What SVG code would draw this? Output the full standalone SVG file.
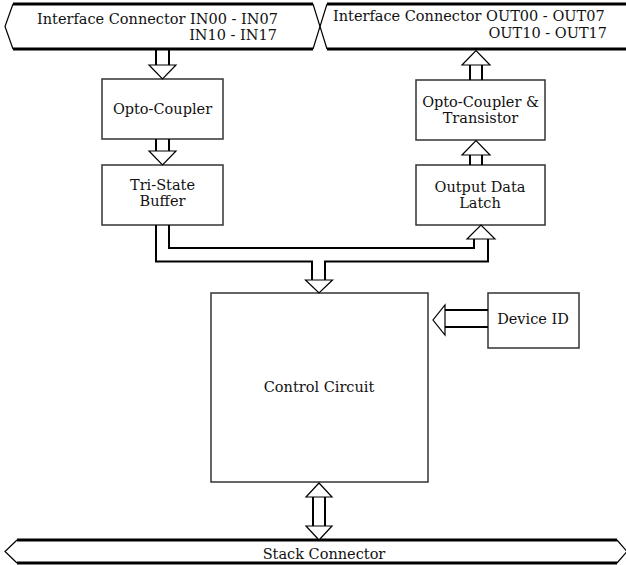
<svg xmlns="http://www.w3.org/2000/svg" width="626" height="565" viewBox="0 0 626 565">
<style>
.box{fill:#fff;stroke:#333;stroke-width:1.5}
.bus{fill:none;stroke:#000;stroke-width:3}
.edge{fill:none;stroke:#000;stroke-width:1.2}
.shaft{fill:none;stroke:#000;stroke-width:2}
.head{fill:#fff;stroke:#000;stroke-width:1.2;stroke-linejoin:miter}
text{font-family:"DejaVu Serif","Liberation Serif",serif;font-size:14.5px;fill:#111}
.c{text-anchor:middle}
.r{text-anchor:end}
</style>
<rect width="626" height="565" fill="#fff"/>
<g id="in-connector">
<path class="edge" d="M313,4 L320,26.5 L313,49 M13,4 L5,26.5 L13,49"/>
<path class="bus" d="M13,4 H313 M13,49 H313"/>
<text x="37" y="24">Interface Connector IN00 - IN07</text>
<text class="r" x="277" y="40">IN10 - IN17</text>
</g>
<g id="out-connector">
<path class="edge" d="M327,4 L320,26.5 L327,49"/>
<path class="bus" d="M327,4 H630 M327,49 H630"/>
<text x="333" y="21">Interface Connector OUT00 - OUT07</text>
<text class="r" x="607" y="37.5">OUT10 - OUT17</text>
</g>
<g id="opto-coupler">
<rect class="box" x="102" y="79" width="121" height="60"/>
<text class="c" x="162.5" y="114">Opto-Coupler</text>
</g>
<g id="tri-state-buffer">
<rect class="box" x="102" y="165" width="121" height="60"/>
<text class="c" x="162.5" y="190">Tri-State</text>
<text class="c" x="162.5" y="206">Buffer</text>
</g>
<g id="opto-coupler-transistor">
<rect class="box" x="416" y="80" width="129" height="60"/>
<text class="c" x="480.5" y="106.5">Opto-Coupler &amp;</text>
<text class="c" x="480.5" y="122.5">Transistor</text>
</g>
<g id="output-data-latch">
<rect class="box" x="416" y="165" width="129" height="60"/>
<text class="c" x="480" y="191.5">Output Data</text>
<text class="c" x="480" y="208">Latch</text>
</g>
<g id="control-circuit">
<rect class="box" x="211" y="293" width="217" height="189"/>
<text class="c" x="319" y="392">Control Circuit</text>
</g>
<g id="device-id">
<rect class="box" x="488" y="293" width="91" height="55"/>
<text class="c" x="533" y="324">Device ID</text>
</g>
<g id="stack-connector">
<path class="edge" d="M17,540 L5,551.5 L17,563 M617,540 L627,551.5 L617,563"/>
<path class="bus" d="M17,540 H617 M17,563 H617"/>
<text class="c" x="324" y="559">Stack Connector</text>
</g>
<g id="connectors">
<!-- IN -> Opto-Coupler -->
<path class="shaft" d="M156,50 V65 M169,50 V65"/>
<path class="head" d="M149,65 H176 L162.5,79 Z"/>
<!-- Opto-Coupler -> Tri-State -->
<path class="shaft" d="M156,139 V151 M169,139 V151"/>
<path class="head" d="M149,151 H176 L162.5,165 Z"/>
<!-- Tri-State bus to Latch and Control -->
<path class="shaft" d="M169,225 V248 H474 V239"/>
<path class="shaft" d="M156,225 V261.5 H312 V280 M325,280 V261.5 H488 V239"/>
<path class="head" d="M467,239 H495 L481,225 Z"/>
<path class="head" d="M305.5,280 H332.5 L319,293 Z"/>
<!-- Latch -> Opto-Coupler & Transistor -->
<path class="shaft" d="M470,155 V165 M482,155 V165"/>
<path class="head" d="M462,155 H490 L476,140.5 Z"/>
<!-- Opto-Coupler & Transistor -> OUT -->
<path class="shaft" d="M470,65 V80 M482,65 V80"/>
<path class="head" d="M462,65 H490 L476,50.5 Z"/>
<!-- Device ID -> Control -->
<path class="shaft" d="M445,310 H488 M445,327 H488"/>
<path class="head" d="M445,305 V335 L433,320 Z"/>
<!-- Control <-> Stack -->
<path class="shaft" d="M313,497 V526 M325,497 V526"/>
<path class="head" d="M306,497 H332 L319,483 Z"/>
<path class="head" d="M306,526 H332 L319,540 Z"/>
</g>
</svg>
